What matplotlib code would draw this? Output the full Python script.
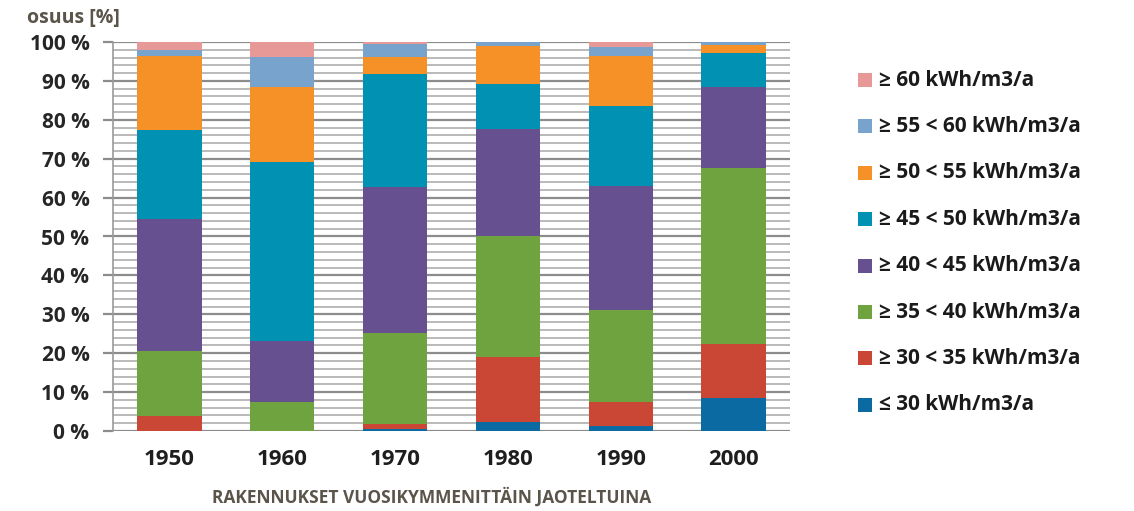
import matplotlib
matplotlib.use("Agg")
import matplotlib.pyplot as plt
from matplotlib.patches import Rectangle
from matplotlib.ticker import MultipleLocator, FuncFormatter
import numpy as np

decades = ["1950", "1960", "1970", "1980", "1990", "2000"]

# Shares (%) of buildings in each energy-use class, bottom to top of the stack
le_30 = [0.0, 0.0, 0.5, 2.2, 1.3, 8.6]
c30_35 = [3.8, 0.0, 1.3, 16.9, 6.2, 13.7]
c35_40 = [16.7, 7.4, 23.3, 31.0, 23.7, 45.2]
c40_45 = [33.9, 15.7, 37.5, 27.5, 31.9, 20.9]
c45_50 = [23.0, 46.0, 29.1, 11.7, 20.5, 8.9]
c50_55 = [18.9, 19.3, 4.4, 9.7, 12.9, 2.0]
c55_60 = [1.6, 7.7, 3.3, 1.0, 2.1, 0.7]
ge_60 = [2.1, 3.9, 0.6, 0.0, 1.4, 0.0]

class_labels = [
    "≤ 30 kWh/m3/a",
    "≥ 30 < 35 kWh/m3/a",
    "≥ 35 < 40 kWh/m3/a",
    "≥ 40 < 45 kWh/m3/a",
    "≥ 45 < 50 kWh/m3/a",
    "≥ 50 < 55 kWh/m3/a",
    "≥ 55 < 60 kWh/m3/a",
    "≥ 60 kWh/m3/a",
]
class_colors = ["#0b6aa2", "#c94734", "#6ea33f", "#66508f", "#0191b2",
                "#f59126", "#78a3cd", "#e79997"]

series = [le_30, c30_35, c35_40, c40_45, c45_50, c50_55, c55_60, ge_60]

W, H = 1134, 511
fig = plt.figure(figsize=(W / 100, H / 100), dpi=100)
ax = fig.add_axes([113 / W, 1 - 431 / H, 677 / W, 389 / H])

x = np.arange(len(decades))
bottom = np.zeros(len(decades))
for vals, col, lab in zip(series, class_colors, class_labels):
    vals = np.array(vals)
    ax.bar(x, vals, width=0.57, bottom=bottom, color=col, label=lab,
           zorder=3, linewidth=0)
    bottom += vals

ax.set_xlim(-0.5, 5.5)
ax.set_ylim(0, 100)

# gridlines: heavier every 10 %, lighter every 2 %
ax.yaxis.set_major_locator(MultipleLocator(10))
ax.yaxis.set_minor_locator(MultipleLocator(2))
ax.grid(axis="y", which="major", color="#8c8c8c", linewidth=1.6, zorder=0)
ax.grid(axis="y", which="minor", color="#b4b4b4", linewidth=1.3, zorder=0)
ax.set_axisbelow(True)

for s in ["top", "right", "bottom"]:
    ax.spines[s].set_visible(False)
ax.spines["left"].set_color("#9a9a9a")
ax.spines["left"].set_linewidth(1.2)

tick_font = ["Open Sans", "DejaVu Sans"]
ax.yaxis.set_major_formatter(FuncFormatter(lambda v, p: f"{int(v)} %"))
ax.tick_params(axis="y", which="major", length=7, width=1.6, color="#8c8c8c",
               pad=10)
ax.tick_params(axis="y", which="minor", length=0)
for t in ax.get_yticklabels():
    t.set_fontfamily(tick_font)
    t.set_fontweight("bold")
    t.set_fontsize(15)
    t.set_color("#262626")

ax.set_xticks(x)
ax.set_xticklabels(decades)
ax.tick_params(axis="x", length=0, pad=13)
for t in ax.get_xticklabels():
    t.set_fontfamily(tick_font)
    t.set_fontweight("bold")
    t.set_fontsize(16)
    t.set_color("#1e1e1e")

label_font = ["Open Sans", "DejaVu Sans"]
fig.text(27 / W, 1 - 18 / H, "osuus [%]", fontsize=14, fontweight="bold",
         color="#5a544a", family=label_font, ha="left", va="center")
fig.text(432 / W, 1 - 497 / H, "RAKENNUKSET VUOSIKYMMENITTÄIN JAOTELTUINA",
         fontsize=12.5, fontweight="bold", color="#5a544a",
         family=label_font, ha="center", va="center")

# legend: top entry is the highest class
row_top, row_step = 80, 46.4
sq = 14
for k, (lab, col) in enumerate(zip(class_labels[::-1], class_colors[::-1])):
    yc = row_top + k * row_step
    fig.patches.append(Rectangle((858 / W, 1 - (yc + sq / 2) / H),
                                 sq / W, sq / H, facecolor=col,
                                 edgecolor="none",
                                 transform=fig.transFigure, figure=fig))
    fig.text(879 / W, 1 - yc / H, lab, fontsize=15, fontweight="bold",
             color="#1a1a1a", family=label_font, ha="left", va="center")

fig.savefig("out.png", dpi=100)
